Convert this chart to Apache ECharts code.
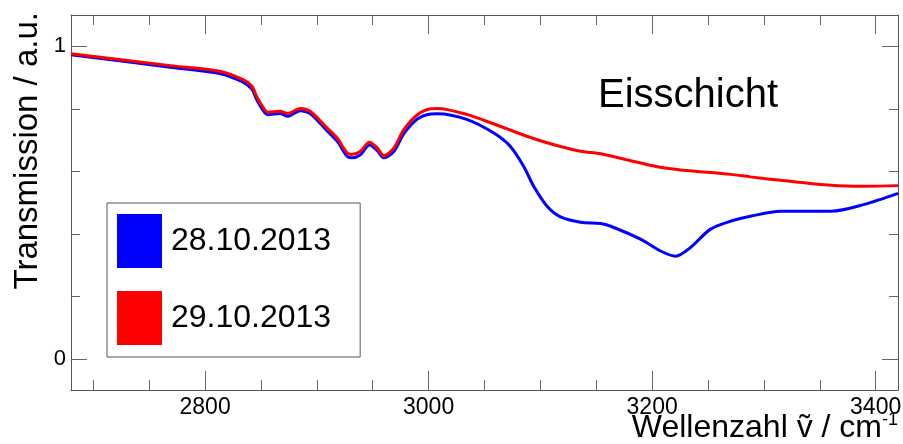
<!DOCTYPE html>
<html>
<head>
<meta charset="utf-8">
<script src="https://cdn.jsdelivr.net/npm/echarts@6/dist/echarts.min.js"></script>
<style>
  html, body { margin: 0; padding: 0; background: #fff; }
  #chart { width: 903px; height: 444px; }
</style>
</head>
<body>
<div id="chart"></div>
<script>
// IR transmission spectra of the ice layer, two measurement days
const seriesNames = ['28.10.2013', '29.10.2013'];

const wavenumber28 = [2680, 2769, 2813, 2834, 2842, 2846, 2852, 2856, 2867, 2874, 2885, 2894, 2909, 2918, 2927, 2931, 2939, 2947, 2954, 2960, 2969, 2978, 2990, 3002, 3008, 3034, 3058, 3073, 3085, 3094, 3106, 3118, 3136, 3154, 3163, 3190, 3208, 3221, 3234, 3252, 3270, 3288, 3315, 3360, 3390, 3420];
const transmission28 = [0.973, 0.933, 0.913, 0.885, 0.862, 0.830, 0.794, 0.781, 0.785, 0.776, 0.794, 0.785, 0.730, 0.697, 0.648, 0.643, 0.653, 0.684, 0.666, 0.643, 0.664, 0.721, 0.767, 0.783, 0.784, 0.766, 0.723, 0.680, 0.616, 0.552, 0.488, 0.454, 0.437, 0.433, 0.424, 0.382, 0.344, 0.328, 0.355, 0.414, 0.440, 0.456, 0.472, 0.472, 0.494, 0.529];

const wavenumber29 = [2680, 2769, 2813, 2834, 2842, 2846, 2852, 2856, 2867, 2874, 2885, 2894, 2909, 2918, 2927, 2931, 2939, 2947, 2954, 2960, 2969, 2978, 2990, 3002, 3008, 3034, 3064, 3088, 3109, 3136, 3154, 3210, 3270, 3288, 3315, 3360, 3390, 3420];
const transmission29 = [0.976, 0.938, 0.920, 0.893, 0.872, 0.840, 0.804, 0.789, 0.792, 0.785, 0.801, 0.792, 0.739, 0.707, 0.659, 0.654, 0.664, 0.693, 0.675, 0.650, 0.675, 0.734, 0.781, 0.800, 0.801, 0.782, 0.744, 0.712, 0.688, 0.664, 0.656, 0.611, 0.590, 0.582, 0.571, 0.555, 0.552, 0.554];

const xMajorTicks = [2800, 3000, 3200, 3400];
const xMinorTicks = [2700, 2750, 2850, 2900, 2950, 3050, 3100, 3150, 3250, 3300, 3350];
const yMajorTicks = [0, 1];
const yMinorTicks = [0.2, 0.4, 0.6, 0.8];

const FONT = '"Liberation Sans", Arial, Helvetica, sans-serif';
const FRAME = '#555';
const TICK = '#666';
const X_MIN = 2680, X_MAX = 3420, Y_MIN = -0.1, Y_MAX = 1.1;

function zip(xs, ys) { return xs.map((x, i) => [x, ys[i]]); }
function plain(v) { return String(v); }

function xAxisDef(position, ticks, len, frame, labels) {
  return {
    type: 'value', position: position, min: X_MIN, max: X_MAX,
    axisLine: { show: frame, onZero: false, lineStyle: { color: FRAME, width: 1 } },
    axisTick: { show: true, inside: true, length: len, customValues: ticks, lineStyle: { color: TICK, width: 1 } },
    axisLabel: labels
      ? { show: true, customValues: ticks, formatter: plain, fontSize: 23, color: '#000', fontFamily: FONT, margin: 6 }
      : { show: false },
    splitLine: { show: false }
  };
}

function yAxisDef(position, ticks, len, frame, labels) {
  return {
    type: 'value', position: position, min: Y_MIN, max: Y_MAX,
    axisLine: { show: frame, onZero: false, lineStyle: { color: FRAME, width: 1 } },
    axisTick: { show: true, inside: true, length: len, customValues: ticks, lineStyle: { color: TICK, width: 1 } },
    axisLabel: labels
      ? { show: true, customValues: ticks, formatter: plain, fontSize: 22, color: '#000', fontFamily: FONT, margin: 5 }
      : { show: false },
    splitLine: { show: false }
  };
}

const chart = echarts.init(document.getElementById('chart'), null, { renderer: 'canvas' });
chart.setOption({
  animation: false,
  backgroundColor: '#fff',
  grid: { left: 71, right: 5, top: 15, bottom: 54, containLabel: false, outerBoundsMode: 'none' },
  xAxis: [
    xAxisDef('bottom', xMajorTicks, 19, true, true),
    xAxisDef('bottom', xMinorTicks, 10, false, false),
    xAxisDef('top', xMajorTicks, 19, true, false),
    xAxisDef('top', xMinorTicks, 10, false, false)
  ],
  yAxis: [
    yAxisDef('left', yMajorTicks, 16, true, true),
    yAxisDef('left', yMinorTicks, 9, false, false),
    yAxisDef('right', yMajorTicks, 16, true, false),
    yAxisDef('right', yMinorTicks, 9, false, false)
  ],
  legend: {
    orient: 'vertical', left: 107, top: 203,
    padding: [11, 29, 12, 10],
    itemWidth: 45, itemHeight: 54, itemGap: 23,
    borderColor: FRAME, borderWidth: 1, backgroundColor: '#fff',
    textStyle: { fontSize: 32, color: '#000', fontFamily: FONT, padding: [0, 0, 0, 4] },
    data: [
      { name: seriesNames[0], icon: 'rect' },
      { name: seriesNames[1], icon: 'rect' }
    ]
  },
  graphic: [
    {
      // y axis title, reading bottom to top, ending at the top of the frame
      type: 'text', x: 28, y: 12, rotation: Math.PI / 2,
      style: { text: 'Transmission / a.u.', font: '33px ' + FONT, fill: '#000', align: 'right', verticalAlign: 'middle' }
    },
    {
      // x axis title, right-aligned under the frame
      type: 'text', x: 898, y: 411,
      style: {
        text: '{base|Wellenzahl \u1E7D / cm}{sup|-1}',
        align: 'right', verticalAlign: 'top',
        rich: {
          base: { fontSize: 32, fontFamily: FONT, fill: '#000', lineHeight: 35 },
          sup: { fontSize: 18, fontFamily: FONT, fill: '#000', verticalAlign: 'top', lineHeight: 18 }
        }
      }
    },
    {
      type: 'text', x: 598, y: 96,
      style: { text: 'Eisschicht', font: '40px ' + FONT, fill: '#000', align: 'left', verticalAlign: 'middle' }
    }
  ],
  series: [
    {
      name: seriesNames[0], type: 'line', data: zip(wavenumber28, transmission28),
      xAxisIndex: 0, yAxisIndex: 0, showSymbol: false, smooth: 0.3,
      color: '#0000ff', lineStyle: { color: '#0000ff', width: 3 }, itemStyle: { color: '#0000ff' }, z: 2
    },
    {
      name: seriesNames[1], type: 'line', data: zip(wavenumber29, transmission29),
      xAxisIndex: 0, yAxisIndex: 0, showSymbol: false, smooth: 0.3,
      color: '#ff0000', lineStyle: { color: '#ff0000', width: 3 }, itemStyle: { color: '#ff0000' }, z: 3
    }
  ]
});
</script>
</body>
</html>
